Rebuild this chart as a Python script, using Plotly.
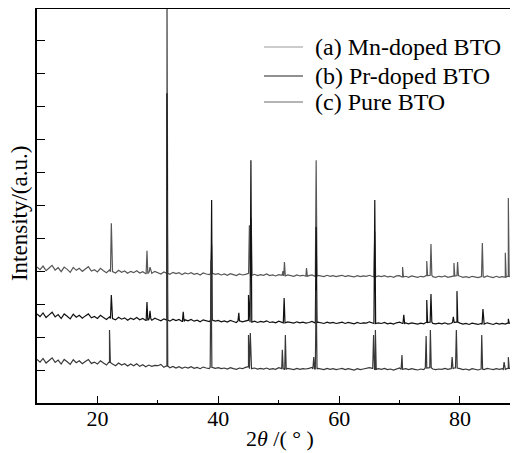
import plotly.graph_objects as go

# ---------------- data ----------------
# background sampled every 0.5 degree from 10 to 90 (2-theta)
KNOT_START, KNOT_STEP = 10.0, 0.5

MN_BG = [412, 404, 415, 401, 409, 417, 403, 410, 398, 412,
         405, 396, 411, 402, 408, 399, 406, 413, 400, 404,
         397, 408, 401, 395, 403, 398, 394, 402, 396, 400,
         393, 399, 395, 401, 394, 398, 392, 397, 393, 399,
         395, 391, 397, 393, 390, 396, 392, 395, 389, 394,
         391, 395, 390, 393, 388, 394, 391, 389, 393, 390,
         392, 388, 391, 387, 392, 389, 386, 391, 388, 390,
         393, 387, 390, 386, 389, 387, 391, 386, 388, 385,
         389, 387, 385, 388, 386, 384, 388, 385, 387, 384,
         386, 388, 384, 387, 385, 383, 387, 384, 386, 383,
         385, 387, 383, 386, 384, 382, 386, 383, 385, 384,
         387, 385, 382, 385, 383, 386, 382, 384, 381, 385,
         386, 382, 384, 381, 385, 383, 381, 384, 382, 386,
         387, 383, 381, 384, 382, 385, 381, 383, 385, 386,
         384, 381, 383, 380, 384, 382, 380, 383, 381, 385,
         382, 380, 384, 381, 383, 381, 384, 382, 386, 382,
         383]
PR_BG = [270, 262, 273, 259, 267, 275, 261, 268, 256, 270,
         263, 255, 269, 260, 266, 257, 264, 270, 258, 262,
         256, 266, 259, 253, 261, 256, 252, 260, 254, 258,
         251, 257, 253, 259, 252, 256, 250, 255, 251, 257,
         253, 249, 255, 251, 248, 254, 250, 253, 247, 252,
         249, 253, 248, 251, 246, 252, 249, 247, 251, 248,
         250, 246, 249, 245, 250, 247, 244, 249, 246, 248,
         251, 245, 248, 244, 247, 245, 249, 244, 246, 243,
         248, 245, 243, 246, 244, 242, 246, 243, 245, 242,
         244, 247, 243, 245, 243, 241, 245, 242, 244, 241,
         243, 245, 241, 244, 242, 240, 244, 241, 243, 242,
         246, 244, 241, 243, 241, 244, 240, 242, 239, 243,
         245, 241, 243, 240, 243, 241, 239, 242, 240, 244,
         245, 241, 240, 242, 240, 243, 239, 241, 244, 245,
         242, 239, 241, 238, 242, 240, 238, 241, 239, 243,
         240, 238, 242, 239, 241, 239, 242, 240, 244, 240,
         241]
PURE_BG = [132, 124, 135, 121, 129, 137, 123, 130, 118, 132,
           125, 117, 131, 122, 128, 119, 126, 132, 120, 124,
           118, 128, 121, 115, 123, 118, 113, 121, 115, 119,
           112, 118, 113, 119, 111, 116, 110, 115, 111, 114,
           113, 117, 108, 112, 107, 111, 106, 110, 105, 109,
           106, 110, 105, 108, 104, 109, 106, 104, 108, 105,
           107, 104, 106, 103, 107, 104, 102, 106, 104, 108,
           110, 104, 106, 103, 105, 103, 106, 102, 104, 102,
           107, 104, 102, 105, 103, 101, 105, 102, 104, 103,
           105, 108, 103, 105, 103, 101, 105, 102, 104, 101,
           103, 105, 101, 104, 102, 100, 104, 101, 103, 104,
           107, 105, 102, 104, 102, 105, 101, 103, 100, 104,
           106, 102, 104, 101, 104, 102, 100, 103, 101, 106,
           107, 103, 101, 103, 102, 105, 102, 104, 106, 106,
           104, 101, 103, 100, 104, 102, 100, 103, 101, 105,
           103, 101, 104, 102, 104, 102, 105, 103, 107, 103,
           104]

MN_PEAK_POS = [22.3, 28.2, 28.7, 31.5, 38.9, 45.15, 45.45, 50.7, 50.95, 54.6, 56.2, 65.9, 70.5, 74.5, 75.2,
               79.0, 79.6, 83.7, 87.5, 88.0]
MN_PEAK_TOP = [545, 461, 412, 1450, 480, 539, 560, 400, 427, 409, 736, 520, 412, 430, 482,
               424, 427, 485, 455, 621]

PR_PEAK_POS = [22.3, 28.2, 28.7, 31.5, 34.2, 38.9, 43.4, 45.0, 45.4, 50.9, 56.2, 65.9, 70.7, 74.5, 75.2,
               78.9, 79.5, 83.8, 88.0]
PR_PEAK_TOP = [327, 306, 279, 939, 276, 615, 273, 327, 736, 318, 533, 615, 267, 312, 330,
               261, 339, 285, 255]

PURE_PEAK_POS = [22.0, 31.5, 38.8, 45.0, 45.3, 50.6, 51.1, 55.8, 56.2, 65.7, 66.0, 70.4, 74.4, 75.1,
                 78.7, 79.4, 83.6, 87.3, 88.0]
PURE_PEAK_TOP = [221, 645, 433, 206, 212, 161, 206, 139, 342, 206, 221, 145, 203, 221,
                 139, 221, 206, 124, 139]

SERIES_NAMES = ["(a) Mn-doped BTO", "(b) Pr-doped BTO", "(c) Pure BTO"]
SERIES_COLORS = ["#575757", "#111111", "#383838"]
LEGEND_COLORS = ["#9a9a9a", "#222222", "#6a6a6a"]

X_TICKS = [20, 40, 60, 80]
FONT = "Liberation Serif"


def build_pattern(bg, pos, top, half=0.14):
    pts = [(KNOT_START + i * KNOT_STEP, v) for i, v in enumerate(bg)]
    for p, t in zip(pos, top):
        foot = bg[int(round((p - KNOT_START) / KNOT_STEP))]
        pts += [(p - half, foot), (p, t), (p + half, foot)]
    pts.sort(key=lambda q: q[0])
    return [q[0] for q in pts], [q[1] for q in pts]


fig = go.Figure()
for name, color, bg, pos, top in zip(SERIES_NAMES, SERIES_COLORS,
                                     [MN_BG, PR_BG, PURE_BG],
                                     [MN_PEAK_POS, PR_PEAK_POS, PURE_PEAK_POS],
                                     [MN_PEAK_TOP, PR_PEAK_TOP, PURE_PEAK_TOP]):
    xs, ys = build_pattern(bg, pos, top)
    fig.add_trace(go.Scatter(x=xs, y=ys, mode="lines", name=name, showlegend=False,
                             line=dict(color=color, width=1.2)))

# hand-placed legend (line sample + label), in plot-area fractions
LEG_Y = [0.9036, 0.830, 0.764]
shapes, annotations = [], []
for name, color, ly in zip(SERIES_NAMES, LEGEND_COLORS, LEG_Y):
    shapes.append(dict(type="line", xref="paper", yref="paper", x0=0.472, x1=0.553, y0=ly, y1=ly,
                       line=dict(color=color, width=1.2)))
    annotations.append(dict(text=name, xref="paper", yref="paper", x=0.574, y=ly, showarrow=False,
                            xanchor="left", yanchor="middle",
                            font=dict(family=FONT, size=24, color="black")))

annotations += [
    dict(text="Intensity/(a.u.)", xref="paper", yref="paper", x=-0.035, y=0.48,
         textangle=-90, showarrow=False, xanchor="center", yanchor="middle",
         font=dict(family=FONT, size=23, color="black")),
    dict(text="2<i>θ</i> /( ° )", xref="paper", yref="paper", x=0.505, y=-0.089,
         showarrow=False, xanchor="center", yanchor="middle",
         font=dict(family=FONT, size=22, color="black")),
]

fig.update_layout(
    width=510, height=445,
    margin=dict(l=29, r=0, t=1, b=50),
    paper_bgcolor="white", plot_bgcolor="white",
    font=dict(family=FONT, color="black", size=22),
    showlegend=False,
    shapes=shapes,
    annotations=annotations,
    xaxis=dict(range=[10, 89.6], tickvals=X_TICKS, ticks="inside", ticklen=7, tickwidth=1.2,
               tickcolor="black", showline=True, linecolor="black", linewidth=1.5,
               mirror=True, showgrid=False, zeroline=False, ticklabelstandoff=-5,
               minor=dict(dtick=10, tick0=10, ticks="inside", ticklen=3, tickcolor="black", tickwidth=1.2),
               tickfont=dict(family=FONT, size=22, color="black")),
    yaxis=dict(range=[0, 1194], dtick=100, tick0=0, ticks="inside", ticklen=8, tickwidth=1.2,
               tickcolor="black", showticklabels=False, showline=True, linecolor="black",
               linewidth=1.5, showgrid=False, zeroline=False),
)

fig.write_html("out.html")
